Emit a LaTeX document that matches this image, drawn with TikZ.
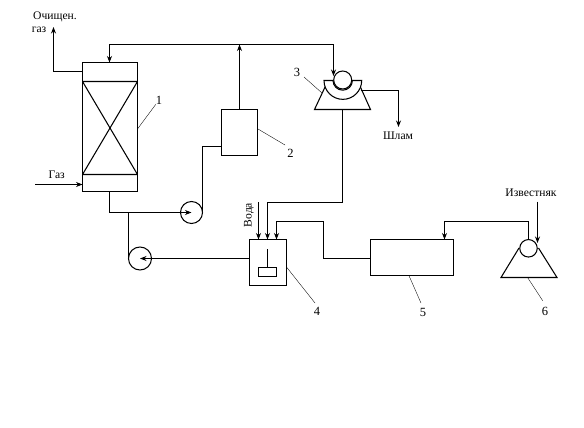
\documentclass[tikz,border=0pt]{standalone}
\usepackage{fontspec}
\setmainfont{Liberation Serif}
\usetikzlibrary{arrows.meta}
\tikzset{
  ln/.style={line width=1.05pt,line join=miter},
  arr/.style={ln,-{Stealth[length=6.5pt,width=5pt]}},
  lead/.style={line width=0.35pt},
  txt/.style={font=\fontsize{11.6}{13}\selectfont,inner sep=0pt},
  num/.style={font=\fontsize{12.5}{14}\selectfont,inner sep=0pt},
  pumpc/.style={circle,draw,line width=1.05pt,fill=white,inner sep=0pt,outer sep=0pt,minimum size=23pt},
  smallc/.style={circle,draw,line width=1.05pt,fill=white,inner sep=0pt,outer sep=0pt,minimum size=18pt},
  bx/.style={draw,line width=1.05pt,inner sep=0pt,anchor=north west,outer sep=0pt}
}
\begin{document}
\begin{tikzpicture}[x=1pt,y=-1pt]
\useasboundingbox (0,0) rectangle (584,428);
% column
\node[bx,minimum width=55pt,minimum height=129pt] (col) at (82.5,62.5) {};
\coordinate (cTL) at (82.5,81.5); \coordinate (cTR) at (137.5,81.5);
\coordinate (cBL) at (82.5,174.5); \coordinate (cBR) at (137.5,174.5);
\draw[ln] (cTL) -- (cTR) (cBL) -- (cBR) (cTL) -- (cBR) (cTR) -- (cBL);
% box 2
\node[bx,minimum width=36pt,minimum height=46pt] (b2) at (221.5,109.5) {};
% box 4
\node[bx,minimum width=37pt,minimum height=46pt] (b4) at (249.5,239.5) {};
\node[bx,minimum width=18pt,minimum height=9pt] (stir) at (258.5,267.5) {};
\draw[ln] (stir.north) -- ++(0,-19);
% box 5
\node[bx,minimum width=83pt,minimum height=36pt] (b5) at (370.5,239.5) {};
% pumps
\node[pumpc,minimum size=22pt] (p1) at (191.5,212.5) {};
\node[pumpc] (p2) at (140,258.5) {};
% unit 3
\coordinate (t3a) at (326,85); \coordinate (t3b) at (314.5,109.5);
\coordinate (t3c) at (370.5,109.5); \coordinate (t3d) at (359.5,85);
\draw[ln] (t3a) -- (t3b) -- (t3c) -- (t3d);
\coordinate (t3base) at (342.5,109.5);
\draw[ln,fill=white] (324,80.5) -- (333,80.5) arc[start angle=180,end angle=0,radius=9.7] -- (361.7,80.5)
  arc[start angle=0,end angle=180,radius=18.85] -- cycle;
\node[smallc] (c3) at (342.7,80) {};
% unit 6
\coordinate (t6a) at (519,248); \coordinate (t6b) at (501,277.5);
\coordinate (t6c) at (557,277.5); \coordinate (t6d) at (538.5,248);
\draw[ln] (t6a) -- (t6b) -- (t6c) -- (t6d);
\node[smallc,minimum size=17.5pt] (c6) at (528.5,248.3) {};
% connectors
\coordinate (gin) at (35,184.5);
\coordinate (tee) at (333.5,44.5);
\coordinate (colin) at (109.5,62.5);
\coordinate (colout) at (109.5,191.5);
\draw[arr] (col.west |- 0,71.5) -- (53.5,71.5) -- (53.5,27);
\draw[arr] (gin) -- (col.west |- gin);
\draw[arr] (tee) -- (333.5,76);
\draw[arr] (tee) -- (colin |- tee) -- (colin);
\draw[arr] (b2.north) -- (b2.north |- tee);
\draw[arr] (colout) -- (colout |- p1) -- (p1.center);
\draw[ln] (128.5,212.5) -- (128.5,258.5) -- (p2.west);
\draw[ln] (p1.east) -- (p1.east |- 0,146.5) -- (b2.west |- 0,146.5);
\draw[arr] (b4.west |- p2) -- (p2.center);
\coordinate (wtop) at (258.5,202);
\draw[arr] (wtop) -- (wtop |- b4.north);
\draw[arr] (t3base) -- (t3base |- 0,202.5) -- (267.5,202.5) -- (267.5,239.5);
\draw[arr] (b5.west |- 0,258.5) -- (323.5,258.5) -- (323.5,221.5) -- (276.5,221.5) -- (276.5,239.5);
\draw[arr] (c6.north) -- (c6.north |- 0,221.5) -- (444.5,221.5) -- (444.5,239.5);
\coordinate (itop) at (537.5,201.7);
\draw[arr] (itop) -- (537.5,243);
\draw[arr] (360.5,90.5) -- (398.5,90.5) -- (398.5,127);
% leaders
\node[num] (n1) at (159,100) {1};
\node[num] (n2) at (290.5,153) {2};
\node[num] (n3) at (297,72) {3};
\node[num] (n4) at (317,311) {4};
\node[num] (n5) at (423,312) {5};
\node[num] (n6) at (545,311.5) {6};
\draw[lead] (137.5,129) -- (n1);
\draw[lead] (258,129) -- (285,145);
\draw[lead] (304,77) -- (322,93);
\draw[lead] (286.7,267.3) -- (315,303);
\draw[lead] (409,275.7) -- (421,303);
\draw[lead] (527.7,277.7) -- (542.7,300.7);
% labels
\node[txt] (t1) at (55,17) {Очищен.};
\node[txt] (t2) at (39,30) {газ};
\node[txt] (t3) at (56.7,175) {Газ};
\node[txt] (t4) at (398,136) {Шлам};
\node[txt,rotate=90] (t5) at (249,215) {Вода};
\node[txt] (t6) at (531,193) {Известняк};
\end{tikzpicture}
\end{document}
